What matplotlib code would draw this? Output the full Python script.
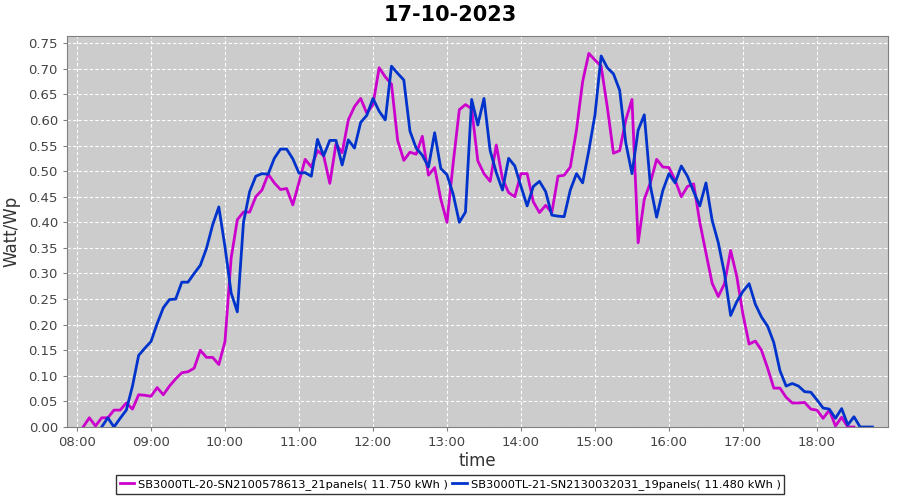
import numpy as np
import matplotlib
matplotlib.use("Agg")
import matplotlib.pyplot as plt
from matplotlib.ticker import FixedLocator, FormatStrFormatter

title = "17-10-2023"
series_names = ["SB3000TL-20-SN2100578613_21panels( 11.750 kWh )",
                "SB3000TL-21-SN2130032031_19panels( 11.480 kWh )"]
colors = ["#cc00cc", "#0033cc"]

# minutes after 08:00, 5-minute samples
mag_start = 5
mag_vals = [0.000, 0.018, 0.002, 0.018, 0.018, 0.033, 0.033, 0.047, 0.035, 0.063,
            0.062, 0.060, 0.077, 0.063, 0.080, 0.094, 0.106, 0.108, 0.115, 0.150,
            0.136, 0.136, 0.122, 0.167, 0.330, 0.405, 0.420, 0.420, 0.450, 0.463,
            0.494, 0.477, 0.464, 0.466, 0.434, 0.478, 0.523, 0.508, 0.540, 0.530,
            0.476, 0.553, 0.536, 0.600, 0.626, 0.642, 0.613, 0.630, 0.702, 0.684,
            0.670, 0.560, 0.521, 0.537, 0.533, 0.568, 0.492, 0.507, 0.445, 0.400,
            0.515, 0.620, 0.630, 0.622, 0.520, 0.495, 0.480, 0.551, 0.485, 0.458,
            0.450, 0.495, 0.495, 0.440, 0.419, 0.433, 0.419, 0.490, 0.492, 0.508,
            0.580, 0.675, 0.730, 0.717, 0.705, 0.625, 0.535, 0.540, 0.600, 0.640,
            0.360, 0.445, 0.478, 0.523, 0.508, 0.507, 0.482, 0.450, 0.470, 0.475,
            0.400, 0.340, 0.281, 0.255, 0.280, 0.345, 0.294, 0.220, 0.162, 0.168,
            0.150, 0.115, 0.076, 0.076, 0.058, 0.047, 0.047, 0.048, 0.035, 0.033,
            0.017, 0.033, 0.002, 0.019, 0.000, 0.000]

blue_start = 20
blue_vals = [0.000, 0.018, 0.000, 0.017, 0.033, 0.080, 0.140, 0.154, 0.167, 0.202,
             0.233, 0.249, 0.250, 0.283, 0.283, 0.300, 0.316, 0.349, 0.395, 0.430,
             0.352, 0.262, 0.225, 0.400, 0.460, 0.490, 0.495, 0.494, 0.525, 0.543,
             0.543, 0.524, 0.496, 0.497, 0.490, 0.562, 0.530, 0.560, 0.560, 0.512,
             0.561, 0.545, 0.595, 0.609, 0.642, 0.617, 0.600, 0.705, 0.691, 0.678,
             0.578, 0.545, 0.531, 0.508, 0.575, 0.505, 0.493, 0.455, 0.400, 0.420,
             0.640, 0.590, 0.642, 0.540, 0.497, 0.463, 0.525, 0.510, 0.470, 0.432,
             0.470, 0.480, 0.460, 0.414, 0.412, 0.411, 0.463, 0.495, 0.477, 0.540,
             0.610, 0.725, 0.702, 0.690, 0.658, 0.555, 0.495, 0.580, 0.610, 0.470,
             0.410, 0.462, 0.495, 0.477, 0.510, 0.490, 0.460, 0.432, 0.477, 0.404,
             0.360, 0.300, 0.218, 0.245, 0.265, 0.280, 0.240, 0.215, 0.197, 0.165,
             0.110, 0.080, 0.085, 0.080, 0.069, 0.068, 0.053, 0.037, 0.035, 0.017,
             0.036, 0.004, 0.020, 0.000, 0.000, 0.000]

x_ticks = [8, 9, 10, 11, 12, 13, 14, 15, 16, 17, 18]
x_labels = ["08:00", "09:00", "10:00", "11:00", "12:00", "13:00", "14:00",
            "15:00", "16:00", "17:00", "18:00"]
y_ticks = [0.00, 0.05, 0.10, 0.15, 0.20, 0.25, 0.30, 0.35, 0.40, 0.45, 0.50,
           0.55, 0.60, 0.65, 0.70, 0.75]

def hours(start, n):
    return 8 + (start + 5 * np.arange(n)) / 60.0

fig = plt.figure(figsize=(9, 5), dpi=100)
ax = fig.add_axes([67/900, 1-427/500, (888-67)/900, (427-36)/500])
ax.set_facecolor("#cccccc")

l1, = ax.plot(hours(mag_start, len(mag_vals)), mag_vals, color=colors[0], lw=2,
              label=series_names[0], solid_joinstyle="round")
l2, = ax.plot(hours(blue_start, len(blue_vals)), blue_vals, color=colors[1], lw=2,
              label=series_names[1], solid_joinstyle="round")

ax.set_xlim(8 - 8.1/60, 8 + 657.6/60)
ax.set_ylim(0, 0.764)
ax.xaxis.set_major_locator(FixedLocator(x_ticks))
ax.set_xticklabels(x_labels)
ax.set_yticks(y_ticks)
ax.yaxis.set_major_formatter(FormatStrFormatter("%.2f"))
ax.grid(True, color="white", linestyle=(0, (3, 2)), linewidth=0.8)
ax.set_axisbelow(True)
for s in ax.spines.values():
    s.set_color("#808080")
ax.tick_params(axis="both", labelsize=9.5, length=3, color="#808080",
               labelcolor="#444444")

ax.set_xlabel("time", fontsize=12, color="#333333", labelpad=2)
ax.set_ylabel("Watt/Wp", fontsize=12, color="#333333", labelpad=6)
fig.suptitle(title, fontsize=15, fontweight="bold", y=0.99)

leg = fig.legend(handles=[l1, l2], loc="lower center", bbox_to_anchor=(0.5, 0.0),
                 ncol=2, fontsize=8.2, frameon=True, fancybox=False,
                 handlelength=1.3, handletextpad=0.3, columnspacing=0.4,
                 borderpad=0.35, borderaxespad=0.5)
leg.get_frame().set_edgecolor("black")
leg.get_frame().set_linewidth(1)

fig.savefig("out.png", dpi=100)
